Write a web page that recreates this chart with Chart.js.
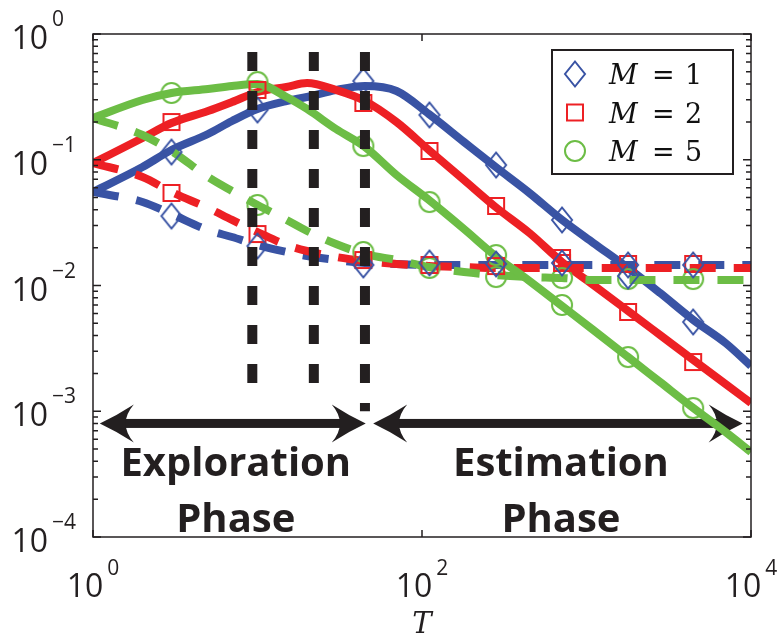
<!DOCTYPE html>
<html>
<head>
<meta charset="utf-8">
<script src="https://cdn.jsdelivr.net/npm/chart.js@4.4.0/dist/chart.umd.min.js"></script>
<style>
  html, body { margin: 0; padding: 0; background: #fff; }
  #wrap { width: 779px; height: 637px; }
</style>
</head>
<body>
<div id="wrap"><canvas id="errChart" width="779" height="637"></canvas></div>
<script>
// T values where the curves are sampled
var lineT = [1, 2, 3, 5, 7, 10, 15, 20, 30, 45, 70, 110, 180, 280, 450, 710, 1100, 1790, 2800, 4460, 7000, 10000];

// solid curves
var m1Solid = [0.0554, 0.0876, 0.1196, 0.1602, 0.2033, 0.2533, 0.2933, 0.3155, 0.3587, 0.3858, 0.3522, 0.2311, 0.1384, 0.0876, 0.0544, 0.0332, 0.0218, 0.01378, 0.00872, 0.00532, 0.00349, 0.00229];
var m2Solid = [0.0942, 0.1489, 0.196, 0.2441, 0.2878, 0.3457, 0.379, 0.4076, 0.3587, 0.2933, 0.1996, 0.1196, 0.069, 0.0421, 0.02615, 0.01538, 0.01009, 0.00627, 0.00404, 0.002556, 0.001647, 0.001163];
var m5Solid = [0.2148, 0.2986, 0.3396, 0.3653, 0.3858, 0.4002, 0.3155, 0.2533, 0.1756, 0.1263, 0.0756, 0.0479, 0.02813, 0.01716, 0.01086, 0.00687, 0.00443, 0.0027, 0.001708, 0.001061, 0.000684, 0.000474];

// dashed curves
var m1Dashed = [0.0554, 0.0461, 0.037, 0.0276, 0.0243, 0.021, 0.01847, 0.01716, 0.01595, 0.0151, 0.01483, 0.01456, 0.01456, 0.01456, 0.01456, 0.01456, 0.01456, 0.01456, 0.01456, 0.01456, 0.01456, 0.01456];
var m2Dashed = [0.0942, 0.0729, 0.0554, 0.0413, 0.0332, 0.02663, 0.021, 0.01881, 0.01685, 0.01566, 0.01483, 0.01429, 0.01403, 0.01378, 0.01378, 0.01378, 0.01378, 0.01378, 0.01378, 0.01378, 0.01378, 0.01378];
var m5Dashed = [0.2148, 0.1573, 0.1174, 0.0729, 0.0564, 0.0437, 0.0332, 0.02713, 0.02138, 0.0178, 0.01595, 0.01403, 0.0128, 0.01212, 0.01168, 0.01147, 0.01106, 0.01106, 0.01106, 0.01106, 0.01106, 0.01106];

// simulated points (markers)
var markT = [3, 10, 44, 111, 282, 710, 1790, 4450];
var m1SolidPts = [0.1152, 0.2486, 0.4228, 0.227, 0.0908, 0.0332, 0.0119, 0.00513];
var m2SolidPts = [0.1996, 0.3587, 0.2827, 0.1174, 0.0429, 0.01655, 0.00616, 0.002464];
var m5SolidPts = [0.3396, 0.4152, 0.1286, 0.0461, 0.01748, 0.007, 0.0027, 0.001061];
var m1DashedPts = [0.0357, 0.0206, 0.01456, 0.0151, 0.01483, 0.0151, 0.01456, 0.01456];
var m2DashedPts = [0.0544, 0.02567, 0.01595, 0.01456, 0.01429, 0.0151, 0.01483, 0.01483];
var m5DashedPts = [null, 0.0437, 0.01847, 0.01378, 0.01168, 0.01147, 0.01126, 0.01126];

// phase boundaries (vertical dashed lines)
var phaseT = [9.3, 22, 45];
var phaseTop = [0.72, 0.72, 0.72];
var phaseBottom = [0.0016, 0.0016, 0.001];

var legendLabels = ['1', '2', '5'];

var INK = '#231f20';
var BLUE = '#3953a4', RED = '#ed2024', GREEN = '#6cbd45';

function makeMarker(kind, color) {
  var c = document.createElement('canvas');
  c.width = 26; c.height = 30;
  var g = c.getContext('2d');
  var cx = 13, cy = 15;
  g.strokeStyle = color;
  g.lineWidth = 2;
  g.beginPath();
  if (kind === 'diamond') {
    g.moveTo(cx, cy - 12.5); g.lineTo(cx + 10, cy); g.lineTo(cx, cy + 12.5); g.lineTo(cx - 10, cy); g.closePath();
  } else if (kind === 'square') {
    g.rect(cx - 8, cy - 8, 16, 16);
  } else {
    g.arc(cx, cy, 10, 0, Math.PI * 2);
  }
  g.stroke();
  return c;
}
var diamond = makeMarker('diamond', BLUE);
var square = makeMarker('square', RED);
var circle = makeMarker('circle', GREEN);

function pts(xs, ys) {
  return xs.map(function (t, i) { return { x: t, y: ys[i] }; });
}

function curve(ys, color, dashed, order) {
  return {
    data: pts(lineT, ys),
    borderColor: color,
    borderWidth: 8,
    borderDash: dashed ? [26, 18] : [],
    borderJoinStyle: 'round',
    cubicInterpolationMode: 'monotone',
    pointRadius: 0,
    fill: false,
    order: order
  };
}

function markers(ys, img) {
  return {
    data: pts(markT, ys),
    showLine: false,
    pointStyle: img,
    pointRadius: 10,
    clip: false,
    order: 1
  };
}

var datasets = [];
phaseT.forEach(function (t, i) {
  datasets.push({
    data: [{ x: t, y: phaseTop[i] }, { x: t, y: phaseBottom[i] }],
    borderColor: INK,
    borderWidth: 10,
    borderDash: [19, 20],
    pointRadius: 0,
    order: 0
  });
});
datasets.push(markers(m1SolidPts, diamond), markers(m1DashedPts, diamond));
datasets.push(markers(m2SolidPts, square), markers(m2DashedPts, square));
datasets.push(markers(m5SolidPts, circle), markers(m5DashedPts, circle));
datasets.push(curve(m5Solid, GREEN, false, 2), curve(m5Dashed, GREEN, true, 2));
datasets.push(curve(m2Solid, RED, false, 3), curve(m2Dashed, RED, true, 3));
datasets.push(curve(m1Solid, BLUE, false, 4), curve(m1Dashed, BLUE, true, 4));

// double-headed arrows with the phase names
function arrowHead(ctx, tip, y, dir) {
  var L = 34, W = 19;
  ctx.beginPath();
  ctx.moveTo(tip, y);
  ctx.quadraticCurveTo(tip - dir * L * 0.5, y - W * 0.42, tip - dir * L, y - W);
  ctx.quadraticCurveTo(tip - dir * L * 0.76, y - W * 0.5, tip - dir * L * 0.76, y);
  ctx.quadraticCurveTo(tip - dir * L * 0.76, y + W * 0.5, tip - dir * L, y + W);
  ctx.quadraticCurveTo(tip - dir * L * 0.5, y + W * 0.42, tip, y);
  ctx.fill();
}

var phases = {
  id: 'phases',
  beforeDatasetsDraw: function (chart) {
    var ctx = chart.ctx, xs = chart.scales.x, ys = chart.scales.y;
    var spans = [[1.1, 45.5, 'Exploration'], [50.5, 8900, 'Estimation']];
    var y = ys.getPixelForValue(8e-4);
    ctx.save();
    ctx.fillStyle = INK;
    spans.forEach(function (s) {
      var a = xs.getPixelForValue(s[0]), b = xs.getPixelForValue(s[1]);
      ctx.fillRect(a + 20, y - 4.5, b - a - 40, 9);
      arrowHead(ctx, a, y, -1);
      arrowHead(ctx, b, y, 1);
      var mid = (a + b) / 2 + 3;
      ctx.font = 'bold 40px "Open Sans"';
      ctx.textAlign = 'center';
      ctx.textBaseline = 'alphabetic';
      ctx.fillText(s[2], mid, y + 53);
      ctx.fillText('Phase', mid, y + 109);
    });
    ctx.restore();
  }
};

// axis box, inward ticks, power-of-ten labels, legend
var frame = {
  id: 'frame',
  afterDraw: function (chart) {
    var ctx = chart.ctx, a = chart.chartArea, xs = chart.scales.x, ys = chart.scales.y;
    ctx.save();
    ctx.strokeStyle = INK;
    ctx.fillStyle = INK;
    ctx.lineWidth = 1.5;
    ctx.strokeRect(a.left, a.top, a.right - a.left, a.bottom - a.top);

    ctx.beginPath();
    for (var e = -4; e <= 0; e++) {
      var py = ys.getPixelForValue(Math.pow(10, e));
      ctx.moveTo(a.left, py); ctx.lineTo(a.left + 8, py);
      ctx.moveTo(a.right, py); ctx.lineTo(a.right - 8, py);
      if (e < 0) {
        for (var m = 2; m <= 9; m++) {
          var pm = ys.getPixelForValue(m * Math.pow(10, e));
          ctx.moveTo(a.left, pm); ctx.lineTo(a.left + 5, pm);
          ctx.moveTo(a.right, pm); ctx.lineTo(a.right - 5, pm);
        }
      }
    }
    [1, 100, 10000].forEach(function (t) {
      var px = xs.getPixelForValue(t);
      ctx.moveTo(px, a.bottom); ctx.lineTo(px, a.bottom - 7);
      ctx.moveTo(px, a.top); ctx.lineTo(px, a.top + 7);
    });
    ctx.stroke();

    // y tick labels
    ctx.textBaseline = 'alphabetic';
    for (var k = 0; k >= -4; k--) {
      var ty = ys.getPixelForValue(Math.pow(10, k));
      ctx.font = '32px "Open Sans"';
      ctx.textAlign = 'right';
      ctx.fillText('10', a.left - 45, ty + 15);
      ctx.font = '21px "Open Sans"';
      ctx.textAlign = 'left';
      ctx.fillText(k === 0 ? '0' : '\u2212' + (-k), a.left - 41, ty - 8);
    }
    // x tick labels
    [0, 2, 4].forEach(function (p) {
      var tx = xs.getPixelForValue(Math.pow(10, p));
      ctx.font = '32px "Open Sans"';
      var w1 = ctx.measureText('10').width;
      ctx.font = '21px "Open Sans"';
      var w2 = ctx.measureText(String(p)).width;
      var x0 = tx - (w1 + 4 + w2) / 2;
      ctx.textAlign = 'left';
      ctx.font = '32px "Open Sans"';
      ctx.fillText('10', x0, a.bottom + 60);
      ctx.font = '21px "Open Sans"';
      ctx.fillText(String(p), x0 + w1 + 4, a.bottom + 38);
    });
    // axis title
    ctx.font = 'italic 29px "DejaVu Serif"';
    ctx.textAlign = 'center';
    ctx.fillText('T', (a.left + a.right) / 2, a.bottom + 96);

    // legend
    var lx = a.right - 199, ly = a.top + 16, lw = 181, lh = 124;
    ctx.fillStyle = '#fff';
    ctx.fillRect(lx, ly, lw, lh);
    ctx.strokeStyle = INK;
    ctx.lineWidth = 2;
    ctx.strokeRect(lx, ly, lw, lh);
    var imgs = [diamond, square, circle];
    legendLabels.forEach(function (lab, i) {
      var ry = ly + 24 + i * 38.5;
      var img = imgs[i];
      ctx.drawImage(img, lx + 23 - img.width / 2, ry - img.height / 2);
      ctx.fillStyle = '#111';
      ctx.textAlign = 'left';
      ctx.font = 'italic 28px "DejaVu Serif"';
      ctx.fillText('M', lx + 57, ry + 10);
      ctx.font = '27px "DejaVu Serif"';
      ctx.fillText('=', lx + 100, ry + 10);
      ctx.fillText(lab, lx + 133, ry + 10);
    });
    ctx.restore();
  }
};

new Chart(document.getElementById('errChart').getContext('2d'), {
  type: 'line',
  data: { datasets: datasets },
  options: {
    responsive: false,
    animation: false,
    devicePixelRatio: 1,
    layout: { padding: { left: 93, right: 28, top: 34, bottom: 100 } },
    scales: {
      x: { type: 'logarithmic', min: 1, max: 10000, display: false },
      y: { type: 'logarithmic', min: 1e-4, max: 1, display: false }
    },
    plugins: {
      legend: { display: false },
      tooltip: { enabled: false }
    }
  },
  plugins: [phases, frame]
});
</script>
</body>
</html>
